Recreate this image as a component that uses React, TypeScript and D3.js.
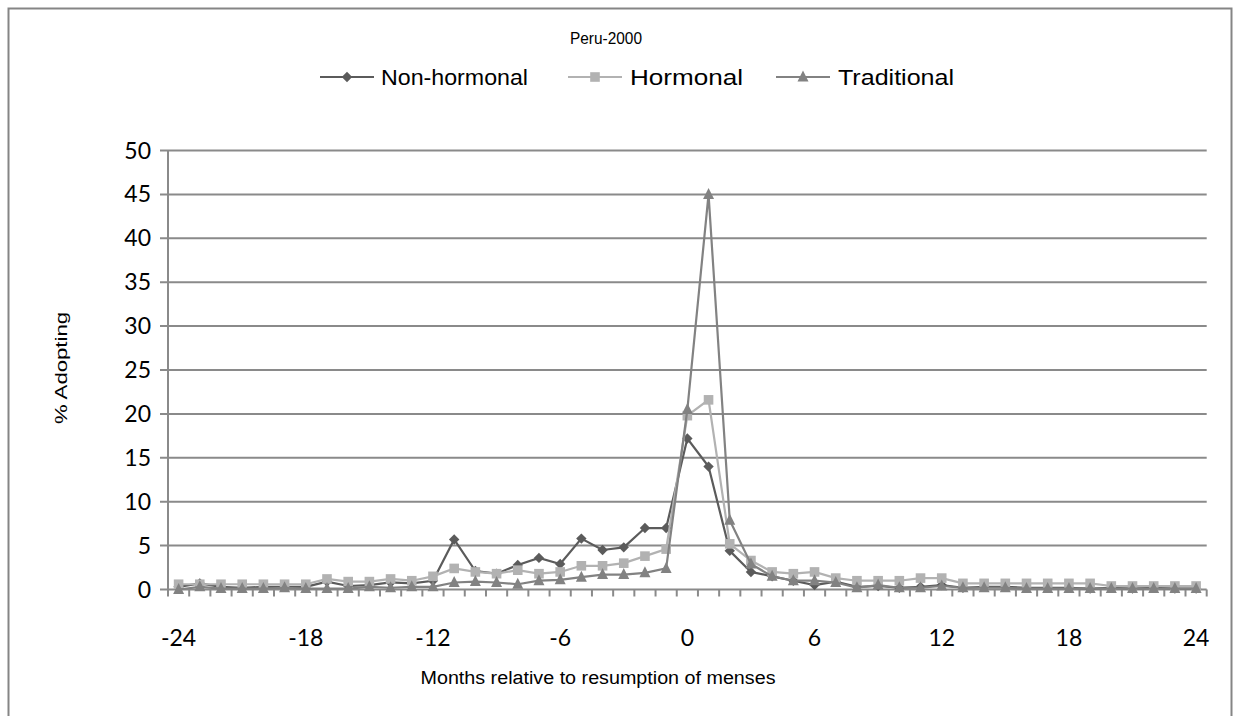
import React from "react";
import * as d3 from "d3";

const months: number[] = d3.range(-24, 25);
const tickLabels: number[] = [-24, -18, -12, -6, 0, 6, 12, 18, 24];
const yTicks: number[] = [0, 5, 10, 15, 20, 25, 30, 35, 40, 45, 50];

const nonHormonal: number[] = [
  0.3, 0.7, 0.3, 0.2, 0.3, 0.3, 0.3, 0.9, 0.4, 0.5, 0.8, 0.7, 1.0,
  5.7, 2.1, 1.8, 2.8, 3.6, 2.9, 5.8, 4.5, 4.8, 7.0, 7.0,
  17.2, 14.0, 4.4, 2.0, 1.5, 1.0, 0.5, 0.9, 0.3, 0.4, 0.2, 0.3, 0.5,
  0.2, 0.3, 0.3, 0.2, 0.2, 0.2, 0.1, 0.2, 0.1, 0.2, 0.1, 0.1,
];
const hormonal: number[] = [
  0.6, 0.6, 0.6, 0.6, 0.6, 0.6, 0.6, 1.2, 0.9, 0.9, 1.2, 1.0, 1.5,
  2.4, 2.0, 1.8, 2.2, 1.8, 2.0, 2.7, 2.7, 3.0, 3.8, 4.6,
  19.8, 21.6, 5.2, 3.3, 2.0, 1.8, 2.0, 1.3, 1.0, 1.0, 1.0, 1.3, 1.3,
  0.7, 0.7, 0.7, 0.7, 0.7, 0.7, 0.7, 0.4, 0.4, 0.4, 0.4, 0.4,
];
const traditional: number[] = [
  0.0, 0.3, 0.1, 0.1, 0.1, 0.2, 0.1, 0.1, 0.1, 0.3, 0.2, 0.3, 0.3,
  0.8, 0.9, 0.8, 0.6, 1.0, 1.1, 1.4, 1.7, 1.7, 1.9, 2.4,
  20.5, 45.0, 7.9, 2.9, 1.5, 1.0, 1.0, 0.8, 0.2, 0.5, 0.2, 0.2, 0.4,
  0.2, 0.2, 0.2, 0.1, 0.1, 0.1, 0.1, 0.1, 0.1, 0.1, 0.1, 0.1,
];

const seriesNames = ["Non-hormonal", "Hormonal", "Traditional"];
const seriesColors = ["#5b5b5b", "#b2b2b2", "#828282"];
const seriesShapes = ["diamond", "square", "triangle"];
const seriesValues = [nonHormonal, hormonal, traditional];

const W = 1241;
const H = 716;
const left = 168;
const right = 1206.7;
const top = 150.5;
const bottom = 589.5;
const gridColor = "#8a8a8a";

function marker(shape: string, x: number, y: number, color: string, key?: string | number) {
  if (shape === "diamond") {
    const s = 5.2;
    return (
      <path key={key} d={`M${x},${y - s}L${x + s},${y}L${x},${y + s}L${x - s},${y}Z`} fill={color} />
    );
  }
  if (shape === "square") {
    const s = 4.8;
    return <rect key={key} x={x - s} y={y - s} width={2 * s} height={2 * s} fill={color} />;
  }
  const s = 5.5;
  return (
    <path key={key} d={`M${x},${y - s - 1}L${x + s},${y + s - 1}L${x - s},${y + s - 1}Z`} fill={color} />
  );
}

export default function App() {
  const x = d3.scaleBand<number>().domain(months).range([left, right]).padding(0);
  const y = d3.scaleLinear().domain([0, 50]).range([bottom, top]);
  const bw = x.bandwidth();
  const cx = (m: number) => (x(m) as number) + bw / 2;
  const line = d3
    .line<number>()
    .x((_, i) => cx(months[i]))
    .y((v) => y(v));

  const legendItems = [
    { lx: 320, tx: 381, tl: 147 },
    { lx: 568, tx: 630, tl: 113 },
    { lx: 776, tx: 838, tl: 116 },
  ];

  return (
    <svg
      width={W}
      height={H}
      style={{ position: "absolute", left: 0, top: 0, display: "block", background: "#fff" }}
    >
      <rect x={0} y={0} width={W} height={H} fill="#fff" />
      <rect x={8.5} y={8.5} width={1223} height={740} fill="none" stroke="#858585" strokeWidth={2} />
      <text
        x={606}
        y={44}
        textAnchor="middle"
        fontFamily="Liberation Sans, Arial"
        fontSize={17}
        fill="#000"
        textLength={72}
        lengthAdjust="spacingAndGlyphs"
      >
        Peru-2000
      </text>

      {legendItems.map((it, i) => (
        <g key={i}>
          <line x1={it.lx} x2={it.lx + 54} y1={77} y2={77} stroke={seriesColors[i]} strokeWidth={2} />
          {marker(seriesShapes[i], it.lx + 27, 77, seriesColors[i])}
          <text
            x={it.tx}
            y={85}
            fontFamily="Liberation Sans, Arial"
            fontSize={22}
            fill="#000"
            textLength={it.tl}
            lengthAdjust="spacingAndGlyphs"
          >
            {seriesNames[i]}
          </text>
        </g>
      ))}

      {yTicks.map((t) => (
        <g key={t}>
          <line x1={left - 8} x2={right} y1={y(t)} y2={y(t)} stroke={gridColor} strokeWidth={2} />
          <text
            x={151}
            y={y(t) + 8}
            textAnchor="end"
            fontFamily="Lato, Carlito, sans-serif"
            fontSize={23}
            fill="#000"
          >
            {t}
          </text>
        </g>
      ))}
      <line x1={left} x2={left} y1={top} y2={bottom} stroke={gridColor} strokeWidth={2} />
      {months.concat([25]).map((m, i) => {
        const xx = i < months.length ? (x(m) as number) : right;
        return <line key={i} x1={xx} x2={xx} y1={bottom} y2={bottom + 7} stroke={gridColor} strokeWidth={2} />;
      })}
      {tickLabels.map((t) => (
        <text
          key={t}
          x={cx(t)}
          y={646}
          textAnchor="middle"
          fontFamily="Lato, Carlito, sans-serif"
          fontSize={23}
          fill="#000"
        >
          {t}
        </text>
      ))}
      <text
        x={598}
        y={684}
        textAnchor="middle"
        fontFamily="Liberation Sans, Arial"
        fontSize={18}
        fill="#000"
        textLength={355}
        lengthAdjust="spacingAndGlyphs"
      >
        Months relative to resumption of menses
      </text>
      <text
        transform={`translate(67,368) rotate(-90)`}
        textAnchor="middle"
        fontFamily="Liberation Sans, Arial"
        fontSize={16}
        fill="#000"
        textLength={112}
        lengthAdjust="spacingAndGlyphs"
      >
        % Adopting
      </text>

      {seriesValues.map((vals, si) => (
        <g key={si}>
          <path d={line(vals) as string} fill="none" stroke={seriesColors[si]} strokeWidth={2.2} />
          {vals.map((v, i) => marker(seriesShapes[si], cx(months[i]), y(v), seriesColors[si], i))}
        </g>
      ))}
    </svg>
  );
}
